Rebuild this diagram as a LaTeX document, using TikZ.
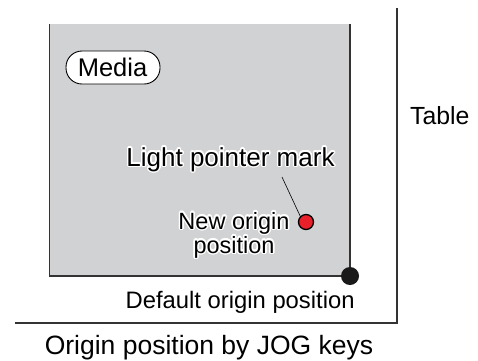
\documentclass[tikz,border=0pt]{standalone}
\usepackage{fontspec}
\setmainfont{Liberation Sans}
\usepackage[copies]{contour}
\contourlength{1.4pt}
\contournumber{24}
\definecolor{mediagray}{HTML}{D1D2D4}
\definecolor{linegray}{HTML}{333333}
\definecolor{dotred}{HTML}{E8202A}
\tikzset{
  edgeline/.style={draw=linegray, line width=1.6pt},
  lbl/.style={inner sep=0pt, text=black},
}
\begin{document}
\begin{tikzpicture}[x=1pt,y=-1pt]
\useasboundingbox (0,0) rectangle (478,360);
% media sheet
\fill[mediagray] (49.3,24) rectangle (350,276);
\draw[edgeline] (49.3,24) -- (49.3,276) -- (350,276) -- (350,24);
% table
\coordinate (ttop) at (396.7,8);
\coordinate (tcorner) at (396.7,322.7);
\coordinate (tleft) at (15,322.7);
\draw[edgeline] (ttop) -- (tcorner) -- (tleft);
% media label
\draw[black, line width=0.9pt, fill=white, rounded corners=16pt] (66,51) rectangle (160,84);
\node[lbl, anchor=base, font=\fontsize{25.5}{26}\selectfont] (media) at (112.5,76) {Media};
% table label
\node[lbl, anchor=base west, font=\fontsize{24.8}{25}\selectfont] (table) at (410,124) {Table};
% light pointer mark
\node[lbl, anchor=base, font=\fontsize{26}{26}\selectfont] (lpm) at (230.5,166) {\contour{white}{Light pointer mark}};
\coordinate (lpmend) at (282,177);
% red dot
\node[circle, fill=dotred, draw=black, line width=1.3pt, minimum size=15pt, inner sep=0pt] (newdot) at (306,222) {};
\draw[black, line width=0.6pt] (lpmend) -- (newdot.north west);
% new origin text
\node[lbl, anchor=base, font=\fontsize{23.5}{24}\selectfont] (neworig) at (234,229) {\contour{white}{New origin}};
\node[lbl, anchor=base, font=\fontsize{23.5}{24}\selectfont] (newpos) at (234,253) {\contour{white}{position}};
% default origin
\node[circle, fill=black!90, inner sep=0pt, minimum size=18pt] (defdot) at (350,276) {};
\node[lbl, anchor=base west, font=\fontsize{23.8}{24}\selectfont] (deflbl) at (125.5,308) {Default origin position};
% title
\node[lbl, anchor=base, font=\fontsize{26.5}{27}\selectfont] (title) at (209,354) {Origin position by JOG keys};
\end{tikzpicture}
\end{document}
